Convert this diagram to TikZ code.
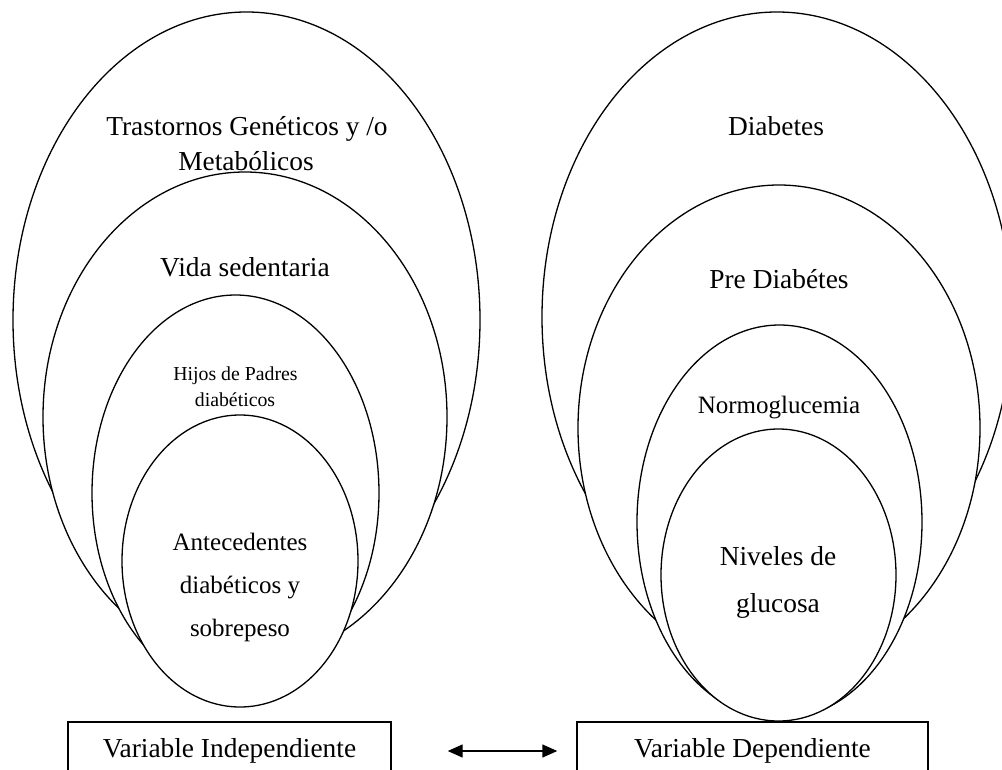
\documentclass[tikz,border=0pt]{standalone}
\usepackage{fontspec}
\setmainfont{Liberation Serif}
\usetikzlibrary{arrows.meta}

\tikzset{
  ring/.style={draw, fill=white, line width=1.3pt},
  big/.style={font=\fontsize{27.4}{33}\selectfont},
  mid/.style={font=\fontsize{25}{30}\selectfont},
  small/.style={font=\fontsize{19.8}{24}\selectfont},
  varbox/.style={draw, line width=1.4pt, big, minimum height=58pt, inner sep=0pt},
  link/.style={{Triangle[length=15pt,width=13pt]}-{Triangle[length=15pt,width=13pt]}, line width=1.4pt}
}

\begin{document}
\begin{tikzpicture}[x=1pt,y=-1pt]
        % Picture frame (boxes run off the bottom edge)
        \clip (0,0) rectangle (1002,769);
        % Independent variable rings, outside in
        \draw[ring] (246.5,320) ellipse [x radius=233.5, y radius=308];
        \draw[ring] (245,417) ellipse [x radius=202, y radius=245];
        \draw[ring] (235.5,493) ellipse [x radius=143.5, y radius=198];
        \draw[ring] (240,561) ellipse [x radius=118, y radius=146];
        % Dependent variable rings, outside in
        \draw[ring] (777,317) ellipse [x radius=235, y radius=305];
        \draw[ring] (779,428) ellipse [x radius=201, y radius=243];
        \draw[ring] (779.5,522) ellipse [x radius=142.5, y radius=197];
        \draw[ring] (778.5,575) ellipse [x radius=117.5, y radius=146];
        % Left labels
        \node[big, anchor=base] (trastA) at (247,135) {Trastornos Genéticos y /o};
        \node[big, anchor=base] (trastB) at (246,170) {Metabólicos};
        \node[big, anchor=base] (vida) at (245,276) {Vida sedentaria};
        \node[small, anchor=base] (hijosA) at (235.5,380) {Hijos de Padres};
        \node[small, anchor=base] (hijosB) at (235,406) {diabéticos};
        \node[mid, anchor=base] (antA) at (240,550) {Antecedentes};
        \node[mid, anchor=base] (antB) at (240,593) {diabéticos y};
        \node[mid, anchor=base] (antC) at (240,636) {sobrepeso};
        % Right labels
        \node[big, anchor=base] (diab) at (776,135) {Diabetes};
        \node[big, anchor=base] (pre) at (779,288) {Pre Diabétes};
        \node[mid, anchor=base] (normo) at (779,413) {Normoglucemia};
        \node[big, anchor=base] (nivA) at (778,565) {Niveles de};
        \node[big, anchor=base] (nivB) at (778,612) {glucosa};
        % Variable boxes and the link between them
        \node[varbox, minimum width=323pt] (indep) at (229.5,751) {Variable Independiente};
        \node[varbox, minimum width=351pt] (dep) at (752.5,751) {Variable Dependiente};
        \draw[link, shorten <=56pt, shorten >=19pt] (indep) -- (dep);
\end{tikzpicture}
\end{document}
